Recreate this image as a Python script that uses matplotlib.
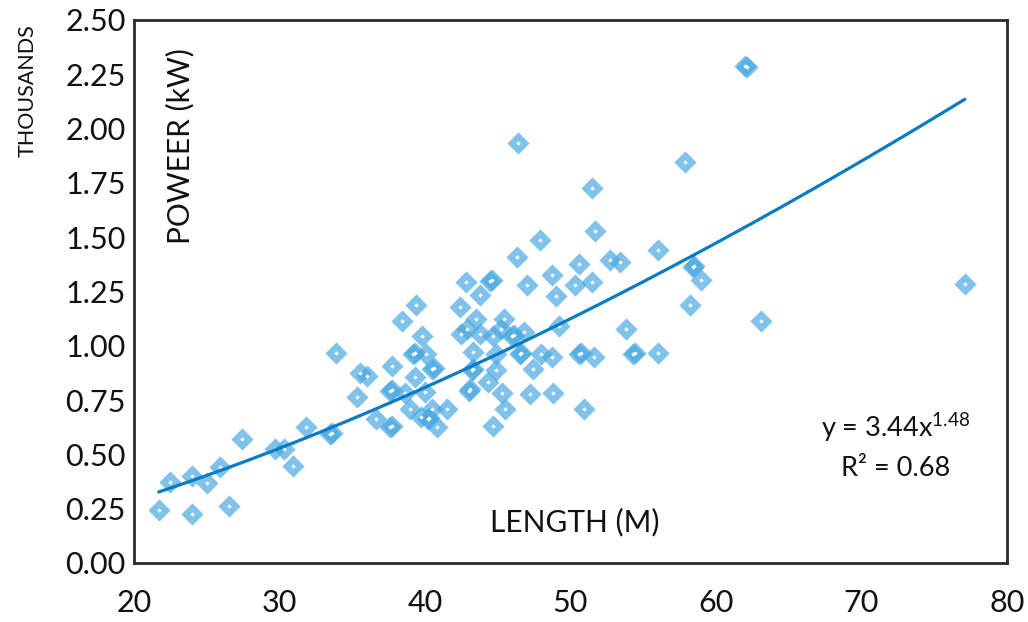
import matplotlib
matplotlib.use("Agg")
import matplotlib.pyplot as plt
import numpy as np

plt.rcParams['font.family'] = ['Lato', 'DejaVu Sans']
plt.rcParams['mathtext.fontset'] = 'custom'
plt.rcParams['mathtext.rm'] = 'Lato'
plt.rcParams['mathtext.it'] = 'Lato'

# Vessel length (m) and installed power (thousands of kW)
length_m = [
    21.7, 22.5, 24.0, 24.0, 25.0, 25.9, 26.5, 27.4, 29.7, 30.3,
    30.9, 31.8, 33.5, 33.6, 33.9, 35.3, 35.5, 36.0, 36.6, 37.6,
    37.7, 37.6, 37.7, 37.7, 38.4, 38.6, 39.0, 39.2, 39.3, 39.3,
    39.4, 39.7, 39.8, 40.0, 40.1, 40.2, 40.3, 40.5, 40.6, 40.5,
    40.8, 41.5, 42.4, 42.5, 42.8, 42.9, 43.0, 43.1, 43.2, 43.3,
    43.3, 43.5, 43.8, 43.8, 44.3, 44.5, 44.6, 44.7, 44.7, 44.9,
    44.9, 45.2, 45.3, 45.4, 45.5, 46.0, 46.1, 46.3, 46.4, 46.5,
    46.6, 46.8, 47.0, 47.2, 47.4, 47.9, 48.0, 48.7, 48.7, 48.8,
    49.0, 49.2, 50.3, 50.6, 50.6, 50.7, 50.9, 51.5, 51.5, 51.6,
    51.7, 52.7, 53.4, 53.8, 54.3, 54.4, 56.0, 56.0, 57.9, 58.2,
    58.4, 58.5, 59.0, 62.0, 62.1, 63.1, 77.1,
]
power_thousand_kw = [
    0.244, 0.374, 0.401, 0.225, 0.367, 0.440, 0.261, 0.572, 0.527, 0.527,
    0.447, 0.627, 0.594, 0.600, 0.966, 0.765, 0.875, 0.860, 0.663, 0.625,
    0.630, 0.790, 0.795, 0.909, 1.113, 0.782, 0.709, 0.962, 0.966, 0.855,
    1.190, 0.670, 1.047, 0.786, 0.962, 0.663, 0.668, 0.893, 0.898, 0.709,
    0.624, 0.709, 1.178, 1.055, 1.293, 1.078, 0.793, 0.800, 0.889, 0.893,
    0.970, 1.124, 1.232, 1.055, 0.835, 1.300, 1.305, 1.047, 0.632, 0.889,
    0.962, 1.078, 0.781, 1.124, 0.709, 1.047, 1.052, 1.408, 1.936, 0.962,
    0.966, 1.062, 1.278, 0.778, 0.893, 1.488, 0.962, 0.950, 1.324, 0.781,
    1.227, 1.093, 1.278, 1.378, 0.962, 0.966, 0.709, 1.293, 1.728, 0.950,
    1.527, 1.396, 1.388, 1.078, 0.962, 0.966, 1.439, 0.966, 1.845, 1.190,
    1.362, 1.368, 1.304, 2.289, 2.285, 1.116, 1.285,
]

# Power-law trend: P[kW] = a * L^b
fit_a = 3.44
fit_b = 1.48
fit_r2 = 0.68

x_ticks = [20, 30, 40, 50, 60, 70, 80]
y_ticks = [0.0, 0.25, 0.5, 0.75, 1.0, 1.25, 1.5, 1.75, 2.0, 2.25, 2.5]

W, H = 1028, 622
fig = plt.figure(figsize=(W / 100, H / 100), dpi=100)
ax = fig.add_axes([134 / W, 1 - 563 / H, (1007 - 134) / W, (563 - 20) / H])

x = np.array(length_m)
y = np.array(power_thousand_kw)

marker_color = (75 / 255, 169 / 255, 225 / 255, 0.7)
ax.scatter(x, y, marker='D', s=128, c=[marker_color], linewidths=0, zorder=2)
ax.scatter(x, y, marker='D', s=5, c='white', linewidths=0, zorder=3)

xs = np.linspace(x.min(), x.max(), 200)
ax.plot(xs, fit_a * xs ** fit_b / 1000.0, color='#0a7cc4', lw=2.3,
        solid_capstyle='round', zorder=4)

ax.set_xlim(20, 80)
ax.set_ylim(0, 2.5)
ax.set_xticks(x_ticks)
ax.set_yticks(y_ticks)
ax.set_xticklabels([str(v) for v in x_ticks])
ax.set_yticklabels([f"{v:.2f}" for v in y_ticks])
ax.tick_params(axis='both', length=0, labelsize=22, colors='#111111')
ax.tick_params(axis='x', pad=19)
ax.tick_params(axis='y', pad=6)

for sp in ax.spines.values():
    sp.set_color('#2b2b2b')
    sp.set_linewidth(2.0)

def px(xp, yp):
    return xp / W, 1 - yp / H

fig.text(*px(28, 91), 'THOUSANDS', rotation=90, ha='center', va='center',
         fontsize=15.5, color='#111111')
fig.text(*px(180, 146), 'POWEER (kW)', rotation=90, ha='center', va='center',
         fontsize=21.5, color='#111111')
fig.text(*px(575, 522), 'LENGTH (M)', ha='center', va='center',
         fontsize=21.5, color='#111111')
fig.text(*px(896, 428), f'y = {fit_a:.2f}x$^{{{fit_b:.2f}}}$', ha='center', va='center',
         fontsize=19.5, color='#111111')
fig.text(*px(896, 468), f'R² = {fit_r2:.2f}', ha='center', va='center',
         fontsize=19.5, color='#111111')

fig.savefig('out.png', dpi=100)
